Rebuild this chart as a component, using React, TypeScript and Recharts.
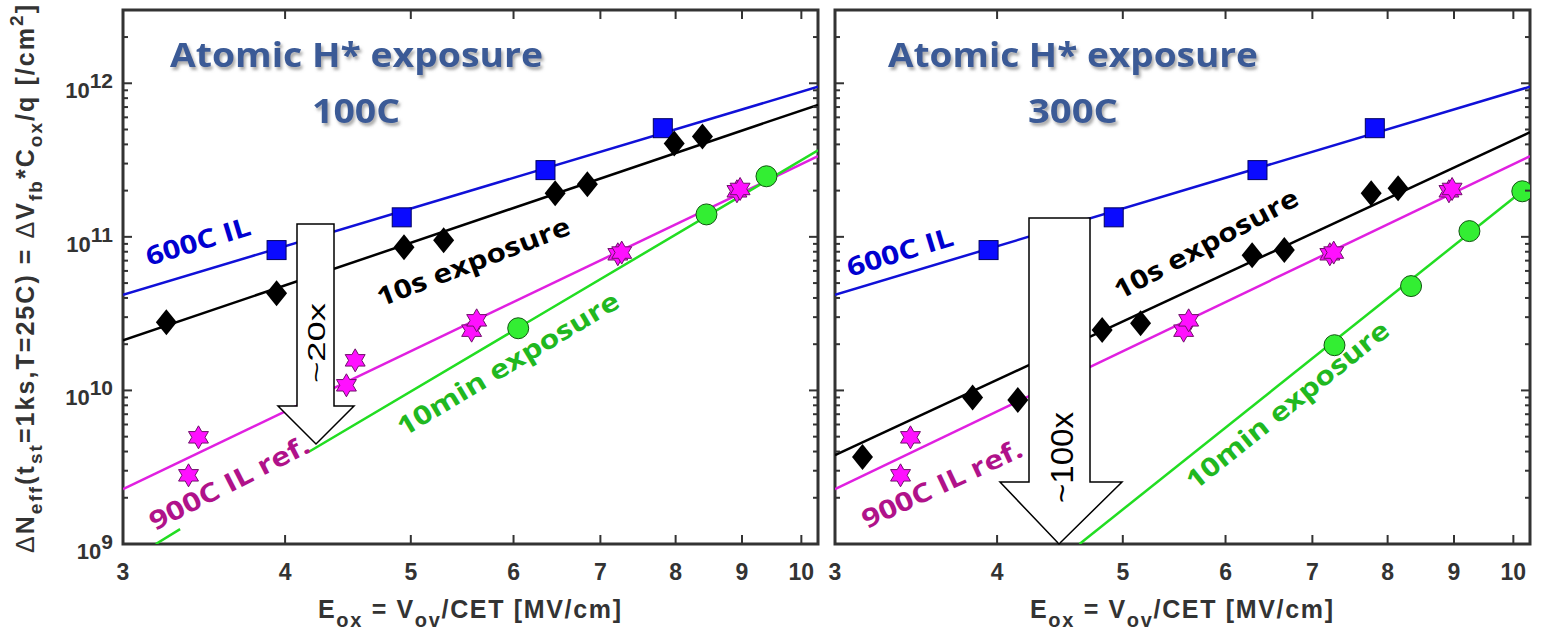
import React from 'react';
import { ComposedChart, Line, Scatter, XAxis, YAxis, ReferenceArea } from 'recharts';

// axes
const xDomain = [3, 10.3];
const yDomain = [1e9, 3e12];
const xTicks = [3, 4, 5, 6, 7, 8, 9, 10];
const yTicks = [
  1e9, 2e9, 3e9, 4e9, 5e9, 6e9, 7e9, 8e9, 9e9,
  1e10, 2e10, 3e10, 4e10, 5e10, 6e10, 7e10, 8e10, 9e10,
  1e11, 2e11, 3e11, 4e11, 5e11, 6e11, 7e11, 8e11, 9e11,
  1e12, 2e12,
];
const fitX = [3, 10.3];

// 600C IL (same reference in both panels)
const il600X = [3.94, 4.92, 6.35, 7.82];
const il600Y = [8.2e10, 1.34e11, 2.72e11, 5.1e11];
const il600FitY = [4.2e10, 9.5e11];

// 900C IL ref.
const il900X = [3.37, 3.43, 4.46, 4.53, 5.57, 5.62, 7.22, 7.27, 8.92, 8.97];
const il900Y = [2.8e9, 4.95e9, 1.08e10, 1.57e10, 2.45e10, 2.86e10, 7.7e10, 7.9e10, 1.98e11, 2.05e11];
const il900FitY = [2.28e9, 3.35e11];

// 100C - 10s exposure
const t100sX = [3.24, 3.94, 4.27, 4.94, 5.3, 6.46, 6.84, 7.98, 8.39];
const t100sY = [2.78e10, 4.3e10, 5.1e10, 8.55e10, 9.5e10, 1.92e11, 2.2e11, 4.06e11, 4.5e11];
const t100sFitY = [2.12e10, 7.24e11];

// 100C - 10min exposure (fit line broken behind the label)
const t100mX = [6.05, 8.45, 9.4];
const t100mY = [2.54e10, 1.4e11, 2.48e11];
const t100mFitX = [3.18, 3.32, 3.7, 4.17, 10.3];
const t100mFitY = [1e9, 1.25e9, null, 3.97e9, 3.66e11];

// 300C - 10s exposure
const t300sX = [3.15, 3.83, 4.15, 4.82, 5.16, 6.29, 6.66, 7.77, 8.15];
const t300sY = [3.68e9, 9.0e9, 8.65e9, 2.47e10, 2.74e10, 7.6e10, 8.2e10, 1.92e11, 2.07e11];
const t300sFitY = [3.79e9, 4.8e11];

// 300C - 10min exposure
const t300mX = [7.28, 8.34, 9.25, 10.16];
const t300mY = [1.97e10, 4.78e10, 1.09e11, 1.98e11];
const t300mFitX = [4.63, 10.3];
const t300mFitY = [1e9, 2.18e11];

const zip = (xs: number[], ys: (number | null)[]) => xs.map((x, i) => ({ x, y: ys[i] }));

const PLOT_W = 695;
const PLOT_H = 534;
const FRAME = '#333';
const BLUE = '#1010d8';
const MAGENTA = '#e020e0';
const GREEN = '#22dd22';
const TICK_FONT = '"Liberation Sans", Arial, sans-serif';
const LABEL_FONT = '"Open Sans", sans-serif';

const Square = (p: any) => (
  <rect x={p.cx - 9.5} y={p.cy - 9.5} width={19} height={19} fill="#0a0aff" stroke="#000060" strokeWidth={1} />
);
const Diamond = (p: any) => (
  <polygon points={`${p.cx},${p.cy - 13} ${p.cx + 10.5},${p.cy} ${p.cx},${p.cy + 13} ${p.cx - 10.5},${p.cy}`} fill="#000" />
);
const Circle = (p: any) => <circle cx={p.cx} cy={p.cy} r={10.5} fill="#33ee33" stroke="#115511" strokeWidth={1} />;
const Star = (p: any) => {
  const pts: string[] = [];
  for (let i = 0; i < 12; i++) {
    const r = i % 2 === 0 ? 11.5 : 6.6;
    const a = (Math.PI / 6) * i - Math.PI / 2;
    pts.push(`${p.cx + r * Math.cos(a)},${p.cy + r * Math.sin(a)}`);
  }
  return <polygon points={pts.join(' ')} fill="#ff10ff" stroke="#70106a" strokeWidth={1} />;
};

const isMajor = (v: number) => {
  const e = Math.round(Math.log10(v));
  return Math.abs(v - Math.pow(10, e)) < v * 1e-6;
};

const makeYTick = (showLabel: boolean) => (props: any) => {
  const { x, y, payload } = props;
  const v = payload.value as number;
  const major = isMajor(v);
  const len = major ? 9 : 5;
  return (
    <g>
      <line x1={x} x2={x + len} y1={y} y2={y} stroke={FRAME} strokeWidth={2} />
      <line x1={x + PLOT_W} x2={x + PLOT_W - len} y1={y} y2={y} stroke={FRAME} strokeWidth={2} />
      {showLabel && major && (
        <text x={x - 10} y={y + 15} textAnchor="end" fontFamily={TICK_FONT} fontWeight="bold" fontSize={22} fill={FRAME}>
          10<tspan dy={-10} fontSize={21}>{Math.round(Math.log10(v))}</tspan>
        </text>
      )}
    </g>
  );
};

const XTick = (props: any) => {
  const { x, y, payload } = props;
  const v = payload.value as number;
  return (
    <g>
      {v !== 3 && (
        <>
          <line x1={x} x2={x} y1={y} y2={y - 9} stroke={FRAME} strokeWidth={2} />
          <line x1={x} x2={x} y1={y - PLOT_H} y2={y - PLOT_H + 9} stroke={FRAME} strokeWidth={2} />
        </>
      )}
      <text x={x} y={y + 36} textAnchor="middle" fontFamily={TICK_FONT} fontWeight="bold" fontSize={23} fill={FRAME}>
        {v}
      </text>
    </g>
  );
};

type PanelProps = {
  width: number;
  yAxisWidth: number;
  right: number;
  showYLabels: boolean;
  sX: number[];
  sY: number[];
  sFitY: number[];
  mX: number[];
  mY: number[];
  mFitX: number[];
  mFitY: (number | null)[];
};

function Panel(p: PanelProps) {
  return (
    <ComposedChart width={p.width} height={644} margin={{ top: 10, right: p.right, bottom: 0, left: 0 }}>
      <XAxis
        dataKey="x"
        type="number"
        scale="log"
        domain={xDomain}
        allowDataOverflow
        ticks={xTicks}
        interval={0}
        axisLine={false}
        tickLine={false}
        tickSize={0}
        tickMargin={0}
        height={100}
        tick={<XTick />}
      />
      <YAxis
        dataKey="y"
        type="number"
        scale="log"
        domain={yDomain}
        allowDataOverflow
        ticks={yTicks}
        interval={0}
        axisLine={false}
        tickLine={false}
        tickSize={0}
        tickMargin={0}
        width={p.yAxisWidth}
        tick={makeYTick(p.showYLabels)}
      />
      <ReferenceArea x1={3} x2={10.3} y1={1e9} y2={3e12} fill="none" fillOpacity={0} stroke={FRAME} strokeWidth={3} />
      <Line data={zip(fitX, il600FitY)} dataKey="y" stroke={BLUE} strokeWidth={2.5} dot={false} isAnimationActive={false} />
      <Line data={zip(fitX, p.sFitY)} dataKey="y" stroke="#000" strokeWidth={2.5} dot={false} isAnimationActive={false} />
      <Line data={zip(fitX, il900FitY)} dataKey="y" stroke={MAGENTA} strokeWidth={2.5} dot={false} isAnimationActive={false} />
      <Line data={zip(p.mFitX, p.mFitY)} dataKey="y" stroke={GREEN} strokeWidth={2.5} dot={false} connectNulls={false} isAnimationActive={false} />
      <Scatter data={zip(il600X, il600Y)} dataKey="y" shape={Square} isAnimationActive={false} />
      <Scatter data={zip(p.sX, p.sY)} dataKey="y" shape={Diamond} isAnimationActive={false} />
      <Scatter data={zip(il900X, il900Y)} dataKey="y" shape={Star} isAnimationActive={false} />
      <Scatter data={zip(p.mX, p.mY)} dataKey="y" shape={Circle} isAnimationActive={false} />
    </ComposedChart>
  );
}

const RotLabel = ({ x, y, angle, len, color, children, size = 26 }: any) => (
  <text
    transform={`translate(${x},${y}) rotate(${-angle})`}
    fontFamily={LABEL_FONT}
    fontWeight={700}
    fontSize={size}
    fill={color}
    textLength={len}
    lengthAdjust="spacingAndGlyphs"
  >
    {children}
  </text>
);

function Overlay() {
  const titleStyle = {
    fontFamily: LABEL_FONT,
    fontWeight: 700,
    fontSize: 34,
    fill: '#3a5a96',
  } as const;
  return (
    <svg width={1542} height={644} style={{ position: 'absolute', left: 0, top: 0, pointerEvents: 'none' }}>
      <defs>
        <filter id="tshadow" x="-10%" y="-30%" width="130%" height="180%">
          <feDropShadow dx={2} dy={3} stdDeviation={1.8} floodColor="#666" floodOpacity={0.55} />
        </filter>
      </defs>

      {/* panel titles */}
      <g filter="url(#tshadow)">
        <text x={170} y={67} {...titleStyle} textLength={373} lengthAdjust="spacingAndGlyphs">Atomic H* exposure</text>
        <text x={312} y={123} {...titleStyle} textLength={88} lengthAdjust="spacingAndGlyphs">100C</text>
        <text x={888} y={67} {...titleStyle} textLength={370} lengthAdjust="spacingAndGlyphs">Atomic H* exposure</text>
        <text x={1028} y={123} {...titleStyle} textLength={90} lengthAdjust="spacingAndGlyphs">300C</text>
      </g>

      {/* arrows */}
      <polygon points="297,224 334,224 334,406 354,406 316,444 278,406 297,406" fill="#fff" stroke="#000" strokeWidth={1.5} />
      <text transform="translate(325,383) rotate(-90)" fontFamily={TICK_FONT} fontSize={24} fill="#000" textLength={80} lengthAdjust="spacingAndGlyphs">~20x</text>
      <polygon points="1029,218 1090,218 1090,482 1122,482 1059,544 1000,482 1029,482" fill="#fff" stroke="#000" strokeWidth={1.5} />
      <text transform="translate(1073,503) rotate(-90)" fontFamily={TICK_FONT} fontSize={32} fill="#000" textLength={91} lengthAdjust="spacingAndGlyphs">~100x</text>

      {/* series labels, left */}
      <RotLabel x={149} y={266} angle={17} len={108} color="#0000d0">600C IL</RotLabel>
      <RotLabel x={381} y={307} angle={21} len={205} color="#000">10s exposure</RotLabel>
      <RotLabel x={404} y={437} angle={31} len={254} color="#20b820">10min exposure</RotLabel>
      <RotLabel x={155} y={531} angle={27} len={176} color="#b0128a">900C IL ref.</RotLabel>

      {/* series labels, right */}
      <RotLabel x={850} y={277} angle={17} len={110} color="#0000d0">600C IL</RotLabel>
      <RotLabel x={1120} y={300} angle={28} len={205} color="#000">10s exposure</RotLabel>
      <RotLabel x={867} y={529} angle={25} len={174} color="#b0128a">900C IL ref.</RotLabel>
      <RotLabel x={1195} y={491} angle={38.7} len={252} color="#20b820">10min exposure</RotLabel>

      {/* x axis titles */}
      {[318, 1030].map((x0) => (
        <text key={x0} x={x0} y={618} fontFamily={TICK_FONT} fontWeight="bold" fontSize={25} fill={FRAME} textLength={303} lengthAdjust="spacing">
          E<tspan dy={9} fontSize={20}>ox</tspan>
          <tspan dy={-9}> = V</tspan>
          <tspan dy={9} fontSize={20}>ov</tspan>
          <tspan dy={-9}>/CET [MV/cm]</tspan>
        </text>
      ))}

      {/* y axis title */}
      <text transform="translate(34,553) rotate(-90)" fontFamily={TICK_FONT} fontWeight="bold" fontSize={25} fill={FRAME} textLength={548} lengthAdjust="spacing">
        <tspan fontWeight="normal">Δ</tspan>N<tspan dy={8} fontSize={19}>eff</tspan>
        <tspan dy={-8}>(t</tspan>
        <tspan dy={8} fontSize={19}>st</tspan>
        <tspan dy={-8}>=1ks,T=25C) = </tspan>
        <tspan fontWeight="normal">Δ</tspan>V<tspan dy={8} fontSize={19}>fb</tspan>
        <tspan dy={-8}>*C</tspan>
        <tspan dy={8} fontSize={19}>ox</tspan>
        <tspan dy={-8}>/q [/cm</tspan>
        <tspan dy={-11} fontSize={19}>2</tspan>
        <tspan dy={11}>]</tspan>
      </text>
    </svg>
  );
}

export default function App() {
  return (
    <div style={{ position: 'absolute', left: 0, top: 0, width: 1542, height: 644, background: '#fff', overflow: 'hidden' }}>
      <div style={{ position: 'absolute', left: 0, top: 0 }}>
        <Panel
          width={822}
          yAxisWidth={123}
          right={4}
          showYLabels
          sX={t100sX}
          sY={t100sY}
          sFitY={t100sFitY}
          mX={t100mX}
          mY={t100mY}
          mFitX={t100mFitX}
          mFitY={t100mFitY}
        />
      </div>
      <div style={{ position: 'absolute', left: 822, top: 0 }}>
        <Panel
          width={720}
          yAxisWidth={13}
          right={12}
          showYLabels={false}
          sX={t300sX}
          sY={t300sY}
          sFitY={t300sFitY}
          mX={t300mX}
          mY={t300mY}
          mFitX={t300mFitX}
          mFitY={t300mFitY}
        />
      </div>
      <Overlay />
    </div>
  );
}
